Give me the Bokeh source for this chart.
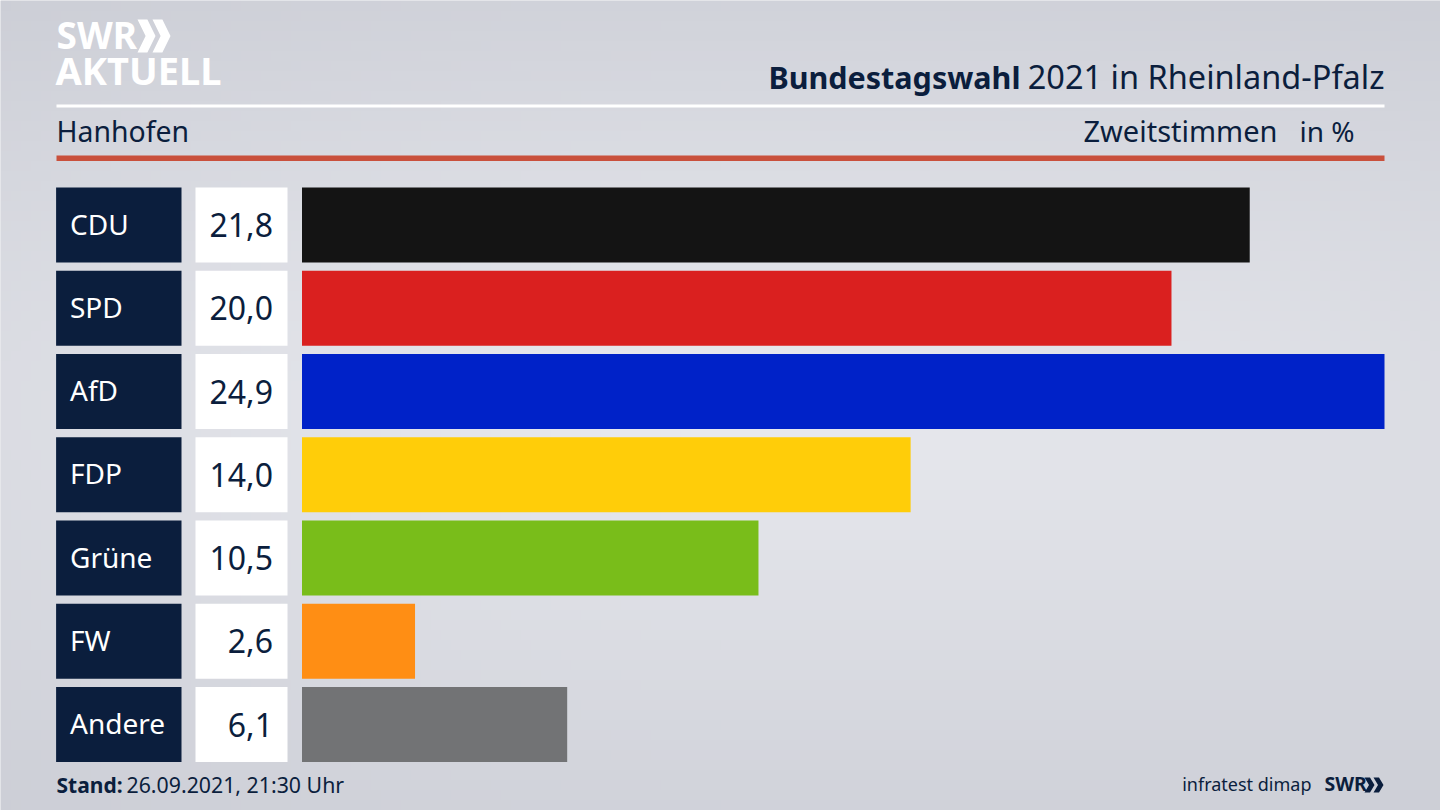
import numpy as np
from bokeh.core.properties import value
from bokeh.models import Range1d
from bokeh.plotting import figure
from bokeh.embed import file_html
from bokeh.resources import INLINE

parties = ["CDU", "SPD", "AfD", "FDP", "Grüne", "FW", "Andere"]
values = [21.8, 20.0, 24.9, 14.0, 10.5, 2.6, 6.1]
value_labels = ["21,8", "20,0", "24,9", "14,0", "10,5", "2,6", "6,1"]
colors = ["#141414", "#da201f", "#0022c8", "#ffcd09", "#79bd1a", "#ff8e14", "#727375"]

title_bold = "Bundestagswahl"
title_rest = "2021 in Rheinland-Pfalz"
place = "Hanhofen"
measure = "Zweitstimmen"
unit = "in %"
stand_bold = "Stand:"
stand_rest = "26.09.2021, 21:30 Uhr"
source = "infratest dimap"

W, H = 1440, 810
FONT = value("Noto Sans")
NAVY = "#0b1e3d"

BAR_X0, BAR_X1 = 301.5, 1384.0
ROW0, ROW_STEP = 224.5, 83.25
px_per_val = (BAR_X1 - BAR_X0) / max(values)

p = figure(width=W, height=H, output_backend="svg", toolbar_location=None,
           x_range=Range1d(0, W), y_range=Range1d(H, 0),
           min_border=0, min_border_left=0, min_border_right=0, min_border_top=0, min_border_bottom=0,
           outline_line_color=None, x_axis_type=None, y_axis_type=None,
           background_fill_color="#d8dae0", border_fill_color="#d8dae0")
p.grid.visible = False
p.extra_x_ranges["pct"] = Range1d(-BAR_X0 / px_per_val, (W - BAR_X0) / px_per_val)
p.extra_y_ranges["row"] = Range1d((H - ROW0) / ROW_STEP, -ROW0 / ROW_STEP)
p.extra_y_ranges["bg"] = Range1d(0, 1)

# page background gradient
rows_bg = 81
cols_bg = 144
yy, xx = np.mgrid[0:rows_bg, 0:cols_bg]
d = np.sqrt(((xx - 72) / 72.0) ** 2 * 0.35 + ((yy - 40) / 40.0) ** 2)
t = np.clip(d, 0, 1.2) / 1.2
img = np.zeros((rows_bg, cols_bg), dtype=np.uint32)
view = img.view(dtype=np.uint8).reshape((rows_bg, cols_bg, 4))
view[..., 0] = 234 - t * 30
view[..., 1] = 235 - t * 29
view[..., 2] = 240 - t * 26
view[..., 3] = 255
p.image_rgba(image=[img], x=0, y=0, dw=W, dh=1, y_range_name="bg")

row_y = list(range(len(parties)))
BAR_H = 75 / ROW_STEP

# rules
p.quad(left=[56], right=[1384], top=[104], bottom=[107], fill_color="white", line_color=None)
p.quad(left=[56], right=[1384], top=[155], bottom=[160.5], fill_color="#c9503c", line_color=None)

# party label boxes, value boxes and bars
p.hbar(y=row_y, left=55.6, right=181, height=BAR_H, y_range_name="row", fill_color=NAVY, line_color=None)
p.hbar(y=row_y, left=195, right=287, height=BAR_H, y_range_name="row", fill_color="white", line_color=None)
p.hbar(y=row_y, left=0, right=values, height=BAR_H, x_range_name="pct", y_range_name="row",
       fill_color=colors, line_color=None)

p.text(x=69.5, y=row_y, text=parties, y_range_name="row", text_font=FONT, text_font_size="28px",
       text_color="white", text_align="left", text_baseline="middle", y_offset=-1.5)
p.text(x=272.5, y=row_y, text=value_labels, y_range_name="row", text_font=FONT, text_font_size="32px",
       text_color=NAVY, text_align="right", text_baseline="middle")


def label(x, y, s, size, color=NAVY, align="left", style="normal"):
    p.text(x=[x], y=[y], text=[s], text_font=FONT, text_font_size=f"{size}px", text_color=color,
           text_align=align, text_baseline="middle", text_font_style=style)


label(1020, 76, title_bold, 30.5, align="right", style="bold")
label(1384, 76, title_rest, 32.5, align="right")
label(56, 130, place, 28.4)
label(1277, 130, measure, 29, align="right")
label(1354, 130, unit, 28, align="right")
label(56, 784, stand_bold, 21, style="bold")
label(126, 784, stand_rest, 21.3)
label(1311, 783, source, 18, align="right")
label(1324, 783, "SWR", 19.5, style="bold")

# logo
label(56, 34, "SWR", 37, color="white", style="bold")
label(55, 69, "AKTUELL", 38, color="white", style="bold")


def chevrons(x0, top, bottom, w, gap, color):
    mid = (top + bottom) / 2
    t = w * 0.55
    for i in range(2):
        x = x0 + i * gap
        p.patch([x, x + t, x + w, x + t, x, x + w - t], [top, top, mid, bottom, bottom, mid],
                fill_color=color, line_color=None)


chevrons(137, 19, 52, 18, 15, "white")
chevrons(1364, 777, 792, 10, 9, NAVY)

html = file_html(p, INLINE)
open("out.html", "w").write(html)
